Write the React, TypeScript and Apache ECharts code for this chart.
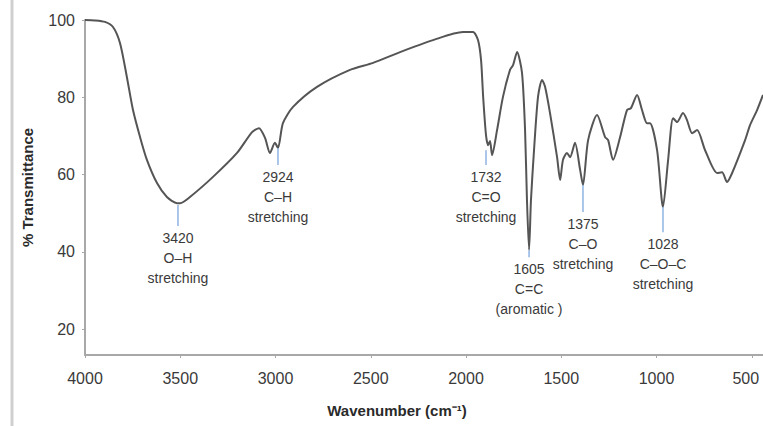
import React, { useEffect, useRef } from "react";
import * as echarts from "echarts";

// Spectrum samples (wavenumber cm^-1, % transmittance)
const wavenumbers = [
  4000, 3948, 3895, 3853, 3816, 3780, 3748, 3711, 3675, 3622, 3570, 3517, 3501,
  3449, 3328, 3202, 3123, 3087, 3055, 3029, 3003, 2987, 2961, 2908, 2782, 2609,
  2488, 2346, 2173, 2016, 1963, 1937, 1921, 1910, 1895, 1884, 1874, 1863, 1837,
  1806, 1769, 1753, 1732, 1706, 1690, 1680, 1669, 1659, 1643, 1622, 1601, 1585,
  1559, 1522, 1506, 1491, 1470, 1454, 1428, 1401, 1386, 1359, 1312, 1270, 1254,
  1228, 1191, 1155, 1134, 1102, 1076, 1050, 1034, 997, 966, 939, 913, 892, 861,
  840, 813, 787, 745, 682, 656, 630, 603, 535, 509, 472, 441,
];
const transmittance = [
  100.0, 99.9, 99.5, 98.2, 94.0, 85.2, 76.7, 69.7, 63.8, 57.8, 54.2, 52.6, 52.6,
  54.2, 59.4, 65.6, 71.0, 72.0, 69.5, 65.6, 68.2, 66.9, 73.3, 77.5, 82.7, 87.1,
  88.9, 91.7, 94.8, 96.9, 96.9, 94.8, 89.6, 80.1, 70.2, 67.6, 68.7, 65.0, 71.5,
  80.1, 87.1, 88.3, 91.7, 86.3, 71.5, 53.4, 40.5, 53.4, 66.3, 80.1, 84.5, 82.7,
  75.9, 64.5, 58.6, 63.8, 65.6, 64.5, 68.2, 61.2, 57.3, 68.9, 75.4, 69.7, 68.9,
  63.8, 69.7, 76.7, 77.2, 80.6, 76.7, 73.3, 73.3, 66.3, 51.6, 63.8, 74.6, 73.6,
  75.9, 74.1, 70.7, 71.5, 66.3, 60.4, 60.6, 58.1, 60.4, 68.9, 72.8, 76.7, 80.6,
];

// Axis ticks
const xTicks = [4000, 3500, 3000, 2500, 2000, 1500, 1000, 500];
const yTicks = [20, 40, 60, 80, 100];

// Band annotations: position, marker top/bottom (% T), label
const annWn = [3512, 2987, 1895, 1669, 1386, 966];
const annTop = [52.1, 66.9, 66.3, 40.4, 57.3, 51.6];
const annBottom = [46.7, 62.5, 62.5, 38.6, 50.3, 45.1];
const annLabels = [
  "3420\nO–H\nstretching",
  "2924\nC–H\nstretching",
  "1732\nC=O\nstretching",
  "1605\nC=C\n(aromatic )",
  "1375\nC–O\nstretching",
  "1028\nC–O–C\nstretching",
];

const FONT = "Liberation Sans, Arial, sans-serif";

export default function App() {
  const ref = useRef<HTMLDivElement>(null);
  useEffect(() => {
    if (!ref.current) return;
    const chart = echarts.init(ref.current, null, { renderer: "svg" });
    const lineData = wavenumbers.map((w, i) => [w, transmittance[i]]);
    const annData = annWn.map((w, i) => [w, annTop[i], annBottom[i], i]);
    chart.setOption({
      animation: false,
      backgroundColor: "#ffffff",
      grid: {
        left: 85,
        right: 0,
        top: 20,
        bottom: 71,
        containLabel: false,
        outerBoundsMode: "none",
      },
      xAxis: {
        type: "value",
        inverse: true,
        min: 441,
        max: 4000,
        axisLine: { show: true, lineStyle: { color: "#a8a8a8", width: 2 } },
        axisTick: {
          show: true,
          length: 3,
          inside: false,
          customValues: xTicks,
          lineStyle: { color: "#a8a8a8", width: 1 },
        },
        axisLabel: {
          customValues: xTicks,
          formatter: (v: number) => (v === 500 ? "{e|500}" : String(v)),
          rich: {
            e: {
              color: "#3a3a3a",
              fontFamily: FONT,
              fontSize: 16,
              padding: [0, 12, 0, 0],
            },
          },
          color: "#3a3a3a",
          fontFamily: FONT,
          fontSize: 16,
          margin: 15,
        },
        splitLine: { show: false },
      },
      yAxis: {
        type: "value",
        min: 13.3,
        max: 100,
        name: "% Transmittance",
        nameLocation: "middle",
        nameGap: 50,
        nameTextStyle: {
          color: "#2a2a2a",
          fontFamily: FONT,
          fontSize: 15,
          fontWeight: "bold",
        },
        axisLine: { show: true, lineStyle: { color: "#a8a8a8", width: 2 } },
        axisTick: {
          show: true,
          length: 3,
          customValues: yTicks,
          lineStyle: { color: "#a8a8a8", width: 1 },
        },
        axisLabel: {
          customValues: yTicks,
          formatter: (v: number) => String(v),
          color: "#3a3a3a",
          fontFamily: FONT,
          fontSize: 16,
          margin: 10,
        },
        splitLine: { show: false },
      },
      graphic: [
        {
          type: "line",
          shape: { x1: 12, y1: 0, x2: 12, y2: 426 },
          style: { stroke: "#cfcfcf", lineWidth: 3 },
        },
        {
          type: "text",
          x: 397,
          y: 410,
          style: {
            text: "Wavenumber (cm⁻¹)",
            textAlign: "center",
            textVerticalAlign: "middle",
            font: "bold 15px " + FONT,
            fill: "#2a2a2a",
          },
        },
      ],
      series: [
        {
          type: "line",
          data: lineData,
          showSymbol: false,
          smooth: 0.25,
          lineStyle: { color: "#555555", width: 2 },
          clip: true,
          z: 3,
        },
        {
          type: "custom",
          data: annData,
          z: 4,
          renderItem: (params: any, api: any) => {
            const w = api.value(0);
            const p1 = api.coord([w, api.value(1)]);
            const p2 = api.coord([w, api.value(2)]);
            const idx = api.value(3);
            return {
              type: "group",
              children: [
                {
                  type: "line",
                  shape: { x1: p1[0], y1: p1[1], x2: p2[0], y2: p2[1] },
                  style: { stroke: "#8fb3e2", lineWidth: 1.5 },
                },
                {
                  type: "text",
                  x: p2[0],
                  y: p2[1] + 2,
                  style: {
                    text: annLabels[idx],
                    textAlign: "center",
                    textVerticalAlign: "top",
                    font: "14px " + FONT,
                    lineHeight: 20,
                    fill: "#3a3a3a",
                  },
                },
              ],
            };
          },
        },
      ],
    });
    return () => chart.dispose();
  }, []);
  return (
    <div
      ref={ref}
      style={{ position: "absolute", left: 0, top: 0, width: 763, height: 426 }}
    />
  );
}
